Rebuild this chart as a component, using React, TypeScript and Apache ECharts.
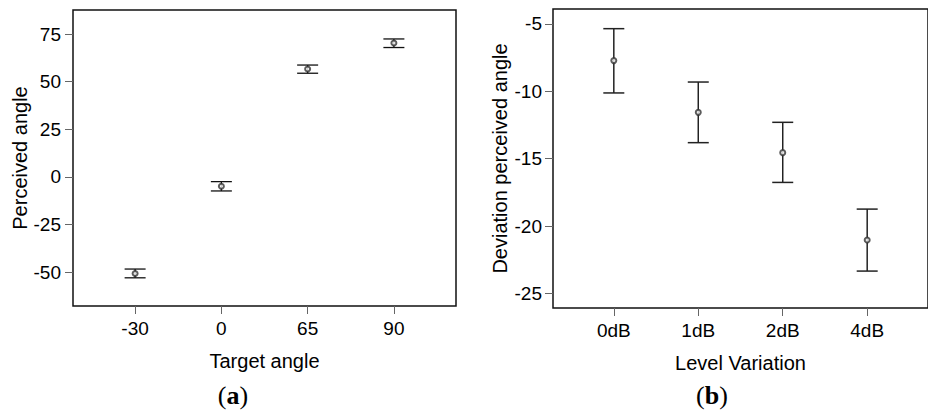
import React, { useEffect, useRef } from "react";
import * as echarts from "echarts";

// (a) Target angle vs perceived angle
const targetAngles = ["-30", "0", "65", "90"];
const perceivedMean = [-50.7, -4.9, 56.6, 70.3];
const perceivedLow = [-53.0, -7.4, 54.4, 67.9];
const perceivedHigh = [-48.4, -2.5, 58.7, 72.4];
const perceivedTicks = [-50, -25, 0, 25, 50, 75];

// (b) Level variation vs deviation of perceived angle
const levels = ["0dB", "1dB", "2dB", "4dB"];
const deviationMean = [-7.72, -11.56, -14.55, -21.04];
const deviationLow = [-10.12, -13.81, -16.76, -23.34];
const deviationHigh = [-5.35, -9.31, -12.3, -18.74];
const deviationTicks = [-25, -20, -15, -10, -5];

const positions = [1, 2, 3, 4];
const FONT = "Liberation Sans, Arial, sans-serif";
const SERIF = "Liberation Serif, Times New Roman, serif";

function errorBarRender(capHalf: number, lineWidth: number, color: string) {
  return (params: any, api: any) => {
    const x = api.value(0);
    const lo = api.coord([x, api.value(1)]);
    const hi = api.coord([x, api.value(2)]);
    const style = { stroke: color, lineWidth };
    return {
      type: "group",
      children: [
        { type: "line", shape: { x1: lo[0], y1: lo[1], x2: hi[0], y2: hi[1] }, style },
        { type: "line", shape: { x1: lo[0] - capHalf, y1: lo[1], x2: lo[0] + capHalf, y2: lo[1] }, style },
        { type: "line", shape: { x1: hi[0] - capHalf, y1: hi[1], x2: hi[0] + capHalf, y2: hi[1] }, style },
      ],
    };
  };
}

export default function App() {
  const ref = useRef<HTMLDivElement>(null);
  useEffect(() => {
    if (!ref.current) return;
    const chart = echarts.init(ref.current, null, { renderer: "svg" });

    const xAxisBase = (cats: string[], gridIndex: number, name: string) => ({
      type: "value",
      gridIndex,
      min: 0.28,
      max: 4.72,
      name,
      nameLocation: "middle",
      nameGap: 45,
      nameTextStyle: { fontFamily: FONT, fontSize: 20, color: "#000" },
      axisLine: { show: false, onZero: false },
      splitLine: { show: false },
      axisTick: {
        show: true,
        length: 8,
        customValues: positions,
        lineStyle: { color: "#666", width: 1 },
      },
      axisLabel: {
        customValues: positions,
        margin: 13,
        fontFamily: FONT,
        fontSize: 19,
        color: "#000",
        formatter: (v: number) => cats[Math.round(v) - 1] ?? "",
      },
    });

    const yAxisBase = (gridIndex: number, min: number, max: number, ticks: number[], name: string, gap: number, margin: number) => ({
      type: "value",
      gridIndex,
      min,
      max,
      name,
      nameLocation: "middle",
      nameGap: gap,
      nameTextStyle: { fontFamily: FONT, fontSize: 20, color: "#000" },
      axisLine: { show: false, onZero: false },
      splitLine: { show: false },
      axisTick: {
        show: true,
        length: 8,
        customValues: ticks,
        lineStyle: { color: "#666", width: 1 },
      },
      axisLabel: {
        customValues: ticks,
        margin,
        fontFamily: FONT,
        fontSize: 19,
        color: "#000",
      },
    });

    const subtitle = (letter: string, x: number) => ({
      type: "text",
      x,
      y: 395,
      style: {
        text: "(" + "{L|" + letter + "})",
        fontFamily: SERIF,
        fontSize: 26,
        fontWeight: "normal",
        fill: "#000",
        align: "center",
        verticalAlign: "middle",
        rich: { L: { fontWeight: "bold", fontFamily: SERIF, fontSize: 26, fill: "#000" } },
      },
    });

    chart.setOption({
      animation: false,
      backgroundColor: "#fff",
      grid: [
        { left: 73, top: 10, width: 383, height: 296, show: true, borderColor: "#111", borderWidth: 1.5, backgroundColor: "transparent" },
        { left: 553, top: 9, width: 385, height: 299, show: true, borderColor: "#111", borderWidth: 1.5, backgroundColor: "transparent" },
      ],
      xAxis: [
        xAxisBase(targetAngles, 0, "Target angle"),
        xAxisBase(levels, 1, "Level Variation"),
      ],
      yAxis: [
        yAxisBase(0, -67.8, 87.6, perceivedTicks, "Perceived angle", 42, 12),
        yAxisBase(1, -26.08, -3.89, deviationTicks, "Deviation perceived angle", 43, 11),
      ],
      series: [
        {
          type: "custom",
          xAxisIndex: 0,
          yAxisIndex: 0,
          renderItem: errorBarRender(10.5, 1.3, "#111"),
          data: positions.map((p, i) => [p, perceivedLow[i], perceivedHigh[i]]),
          z: 2,
        },
        {
          type: "scatter",
          xAxisIndex: 0,
          yAxisIndex: 0,
          symbol: "emptyCircle",
          symbolSize: 5,
          itemStyle: { color: "#333", borderWidth: 1 },
          data: positions.map((p, i) => [p, perceivedMean[i]]),
          z: 3,
        },
        {
          type: "custom",
          xAxisIndex: 1,
          yAxisIndex: 1,
          renderItem: errorBarRender(10.5, 1.5, "#222"),
          data: positions.map((p, i) => [p, deviationLow[i], deviationHigh[i]]),
          z: 2,
        },
        {
          type: "scatter",
          xAxisIndex: 1,
          yAxisIndex: 1,
          symbol: "emptyCircle",
          symbolSize: 5,
          itemStyle: { color: "#333", borderWidth: 1 },
          data: positions.map((p, i) => [p, deviationMean[i]]),
          z: 3,
        },
      ],
      graphic: [subtitle("a", 233), subtitle("b", 712)],
    });
    return () => chart.dispose();
  }, []);

  return (
    <div
      ref={ref}
      style={{ position: "fixed", left: 0, top: 0, width: 928, height: 412, background: "#fff" }}
    />
  );
}
